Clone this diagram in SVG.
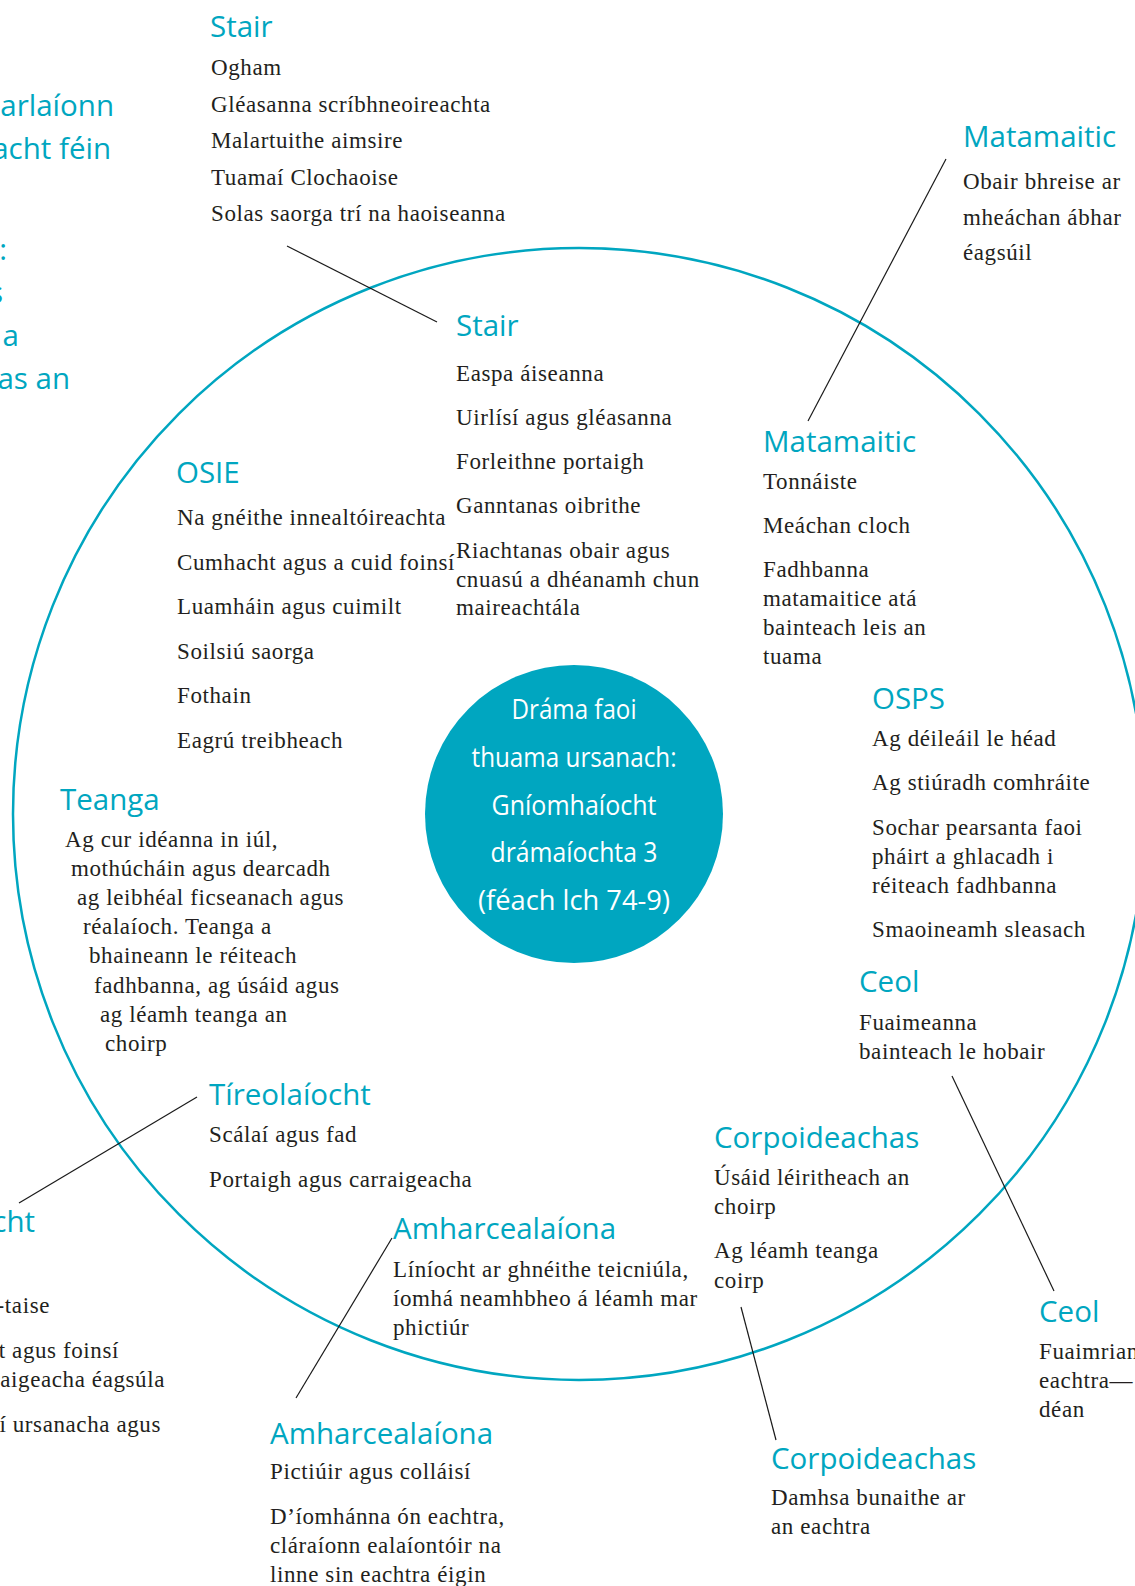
<svg xmlns="http://www.w3.org/2000/svg" width="1135" height="1586" viewBox="0 0 1135 1586">
<style>
.h{font-family:"Open Sans","Noto Sans","Liberation Sans",sans-serif;font-size:29.5px;fill:#00A6C0}
.t{font-family:"Liberation Serif","DejaVu Serif",serif;font-size:23px;letter-spacing:0.6px;fill:#231F20}
.c{font-family:"Open Sans","Noto Sans",sans-serif;font-size:27px;fill:#FFFFFF;text-anchor:middle}
.e{text-anchor:end}
.ln{stroke:#1a1a1a;stroke-width:1.2;fill:none}
</style>
<rect width="1135" height="1586" fill="#FFFFFF"/>
<g id="ring"><circle cx="579" cy="814" r="566" fill="none" stroke="#00A6C0" stroke-width="2.5"/></g>
<g id="connectors">
<line class="ln" x1="287" y1="246" x2="437" y2="322"/>
<line class="ln" x1="946" y1="159" x2="808" y2="421"/>
<line class="ln" x1="952" y1="1076" x2="1054" y2="1291"/>
<line class="ln" x1="741" y1="1307" x2="776" y2="1440"/>
<line class="ln" x1="392" y1="1238" x2="296" y2="1398"/>
<line class="ln" x1="197" y1="1097" x2="19" y2="1203"/>
</g>
<g id="hub">
<circle cx="574" cy="814" r="149" fill="#00A6C0"/>
<text class="c" x="574" y="719" textLength="125" lengthAdjust="spacingAndGlyphs">Dráma faoi</text>
<text class="c" x="574" y="767" textLength="205" lengthAdjust="spacingAndGlyphs">thuama ursanach:</text>
<text class="c" x="574" y="815" textLength="165" lengthAdjust="spacingAndGlyphs">Gníomhaíocht</text>
<text class="c" x="574" y="862" textLength="167" lengthAdjust="spacingAndGlyphs">drámaíochta 3</text>
<text class="c" x="574" y="910" textLength="192" lengthAdjust="spacingAndGlyphs">(féach lch 74-9)</text>
</g>
<g id="left-top-partial">
<text class="h e" x="114" y="116">harlaíonn</text>
<text class="h e" x="111" y="159">acht féin</text>
<text class="h e" x="7" y="260">:</text>
<text class="h e" x="3" y="303">s</text>
<text class="h e" x="19" y="346">a</text>
<text class="h e" x="70" y="389">as an</text>
</g>
<g id="stair-outer">
<text class="h" x="210" y="37">Stair</text>
<text class="t" x="211" y="75">Ogham</text>
<text class="t" x="211" y="112">Gléasanna scríbhneoireachta</text>
<text class="t" x="211" y="148">Malartuithe aimsire</text>
<text class="t" x="211" y="185">Tuamaí Clochaoise</text>
<text class="t" x="211" y="221">Solas saorga trí na haoiseanna</text>
</g>
<g id="matamaitic-outer">
<text class="h" x="963" y="147">Matamaitic</text>
<text class="t" x="963" y="189">Obair bhreise ar</text>
<text class="t" x="963" y="225">mheáchan ábhar</text>
<text class="t" x="963" y="260">éagsúil</text>
</g>
<g id="stair-inner">
<text class="h" x="456" y="336">Stair</text>
<text class="t" x="456" y="381">Easpa áiseanna</text>
<text class="t" x="456" y="425">Uirlísí agus gléasanna</text>
<text class="t" x="456" y="469">Forleithne portaigh</text>
<text class="t" x="456" y="513">Ganntanas oibrithe</text>
<text class="t" x="456" y="558">Riachtanas obair agus</text>
<text class="t" x="456" y="587">cnuasú a dhéanamh chun</text>
<text class="t" x="456" y="615">maireachtála</text>
</g>
<g id="osie">
<text class="h" x="176" y="483">OSIE</text>
<text class="t" x="177" y="525">Na gnéithe innealtóireachta</text>
<text class="t" x="177" y="570">Cumhacht agus a cuid foinsí</text>
<text class="t" x="177" y="614">Luamháin agus cuimilt</text>
<text class="t" x="177" y="659">Soilsiú saorga</text>
<text class="t" x="177" y="703">Fothain</text>
<text class="t" x="177" y="748">Eagrú treibheach</text>
</g>
<g id="matamaitic-inner">
<text class="h" x="763" y="452">Matamaitic</text>
<text class="t" x="763" y="489">Tonnáiste</text>
<text class="t" x="763" y="533">Meáchan cloch</text>
<text class="t" x="763" y="577">Fadhbanna</text>
<text class="t" x="763" y="606">matamaitice atá</text>
<text class="t" x="763" y="635">bainteach leis an</text>
<text class="t" x="763" y="664">tuama</text>
</g>
<g id="osps">
<text class="h" x="872" y="709">OSPS</text>
<text class="t" x="872" y="746">Ag déileáil le héad</text>
<text class="t" x="872" y="790">Ag stiúradh comhráite</text>
<text class="t" x="872" y="835">Sochar pearsanta faoi</text>
<text class="t" x="872" y="864">pháirt a ghlacadh i</text>
<text class="t" x="872" y="893">réiteach fadhbanna</text>
<text class="t" x="872" y="937">Smaoineamh sleasach</text>
</g>
<g id="teanga">
<text class="h" x="60" y="810">Teanga</text>
<text class="t" x="65" y="847">Ag cur idéanna in iúl,</text>
<text class="t" x="71" y="876">mothúcháin agus dearcadh</text>
<text class="t" x="77" y="905">ag leibhéal ficseanach agus</text>
<text class="t" x="83" y="934">réalaíoch. Teanga a</text>
<text class="t" x="89" y="963">bhaineann le réiteach</text>
<text class="t" x="94" y="993">fadhbanna, ag úsáid agus</text>
<text class="t" x="100" y="1022">ag léamh teanga an</text>
<text class="t" x="105" y="1051">choirp</text>
</g>
<g id="ceol-inner">
<text class="h" x="859" y="992">Ceol</text>
<text class="t" x="859" y="1030">Fuaimeanna</text>
<text class="t" x="859" y="1059">bainteach le hobair</text>
</g>
<g id="tireolaiocht">
<text class="h" x="209" y="1105">Tíreolaíocht</text>
<text class="t" x="209" y="1142">Scálaí agus fad</text>
<text class="t" x="209" y="1187">Portaigh agus carraigeacha</text>
</g>
<g id="left-bottom-partial">
<text class="h e" x="35" y="1232">cht</text>
<text class="t e" x="50" y="1313">-taise</text>
<text class="t e" x="119" y="1358">t agus foinsí</text>
<text class="t e" x="165" y="1387">raigeacha éagsúla</text>
<text class="t e" x="161" y="1432">í ursanacha agus</text>
</g>
<g id="corpoideachas-inner">
<text class="h" x="714" y="1148">Corpoideachas</text>
<text class="t" x="714" y="1185">Úsáid léiritheach an</text>
<text class="t" x="714" y="1214">choirp</text>
<text class="t" x="714" y="1258">Ag léamh teanga</text>
<text class="t" x="714" y="1288">coirp</text>
</g>
<g id="amharcealaiona-inner">
<text class="h" x="393" y="1239">Amharcealaíona</text>
<text class="t" x="393" y="1277">Líníocht ar ghnéithe teicniúla,</text>
<text class="t" x="393" y="1306">íomhá neamhbheo á léamh mar</text>
<text class="t" x="393" y="1335">phictiúr</text>
</g>
<g id="ceol-outer">
<text class="h" x="1039" y="1322">Ceol</text>
<text class="t" x="1039" y="1359">Fuaimrian</text>
<text class="t" x="1039" y="1388">eachtra—</text>
<text class="t" x="1039" y="1417">déan</text>
</g>
<g id="amharcealaiona-outer">
<text class="h" x="270" y="1444">Amharcealaíona</text>
<text class="t" x="270" y="1479">Pictiúir agus colláisí</text>
<text class="t" x="270" y="1524">D’íomhánna ón eachtra,</text>
<text class="t" x="270" y="1553">cláraíonn ealaíontóir na</text>
<text class="t" x="270" y="1582">linne sin eachtra éigin</text>
</g>
<g id="corpoideachas-outer">
<text class="h" x="771" y="1469">Corpoideachas</text>
<text class="t" x="771" y="1505">Damhsa bunaithe ar</text>
<text class="t" x="771" y="1534">an eachtra</text>
</g>
</svg>
